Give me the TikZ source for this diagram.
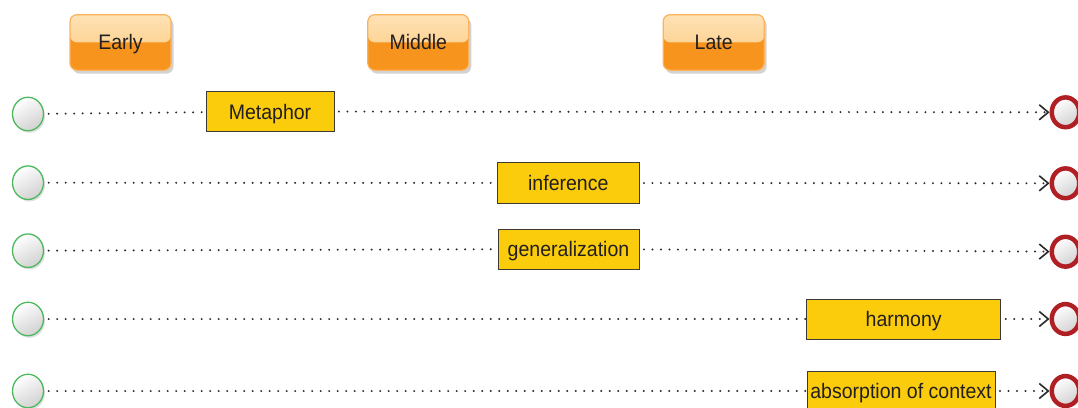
\documentclass[tikz,border=0pt]{standalone}
\usepackage{fontspec}
\setmainfont{Liberation Sans}[FakeStretch=0.93]
\usetikzlibrary{shapes.geometric,arrows.meta,shadows}
\definecolor{hbot}{HTML}{F7941D}
\definecolor{htop}{HTML}{FEE2B6}
\definecolor{hmid}{HTML}{FBC777}
\definecolor{hborder}{HTML}{FBB25A}
\definecolor{boxfill}{HTML}{FBCC0C}
\definecolor{boxline}{HTML}{3C3A32}
\definecolor{txt}{HTML}{231F20}
\definecolor{startline}{HTML}{4DB85C}
\definecolor{endline}{HTML}{B01F24}
\definecolor{dotc}{HTML}{2A2A2A}
\begin{document}
\begin{tikzpicture}[x=1pt,y=1pt,
  every node/.style={font=\fontsize{21}{24}\selectfont, text=txt, text height=15pt, text depth=0pt},
  hdr/.style={rounded corners=7pt, minimum width=101pt, minimum height=55.5pt,
    fill=hbot, draw=hborder, line width=1.2pt, inner sep=0pt,
    drop shadow={shadow xshift=2.5pt, shadow yshift=-3.5pt, opacity=0.35},
    path picture={\fill[top color=htop, bottom color=hmid]
      (path picture bounding box.north west) rectangle (path picture bounding box.east);}},
  startc/.style={ellipse, minimum width=31pt, minimum height=33.5pt, inner sep=0pt,
    draw=startline, line width=1.3pt, top color=white, bottom color=black!18, shading angle=30,
    drop shadow={shadow xshift=1.5pt, shadow yshift=-2pt, opacity=0.25}},
  endc/.style={ellipse, minimum width=27.5pt, minimum height=29.8pt, inner sep=0pt,
    draw=endline, line width=4.5pt, top color=white, bottom color=black!18, shading angle=30,
    drop shadow={shadow xshift=1.5pt, shadow yshift=-2pt, opacity=0.25}},
  task/.style={draw=boxline, fill=boxfill, line width=0.9pt, inner sep=0pt},
  conn/.style={draw=dotc, line width=2.2pt, line cap=round, dash pattern=on 0pt off 8.5pt, dash phase=4pt},
  tip/.style={-{Straight Barb[length=9pt,width=15pt,line width=1.6pt]}}
]
\path[use as bounding box] (0,0) rectangle (1078,-407);

% headers
\node[hdr] (early)  at (120.5,-42.4) {Early};
\node[hdr] (middle) at (418.3,-42.4) {Middle};
\node[hdr] (late)   at (713.7,-42.4) {Late};

% start circles
\node[startc] (s1) at (28,-114) {};
\node[startc] (s2) at (28,-182.7) {};
\node[startc] (s3) at (28,-250.7) {};
\node[startc] (s4) at (28,-319) {};
\node[startc] (s5) at (28,-391) {};

% end circles
\node[endc] (e1) at (1065.5,-112.3) {};
\node[endc] (e2) at (1065.5,-183.3) {};
\node[endc] (e3) at (1065.5,-251.7) {};
\node[endc] (e4) at (1065.5,-319) {};
\node[endc] (e5) at (1065.5,-391) {};

% tasks
\node[task, minimum width=128pt, minimum height=40.7pt] (t1) at (270,-111.5) {Metaphor};
\node[task, minimum width=141.3pt, minimum height=40.6pt] (t2) at (568.3,-183) {inference};
\node[task, minimum width=141pt, minimum height=40pt] (t3) at (568.5,-249) {generalization};
\node[task, minimum width=194pt, minimum height=40pt] (t4) at (903.7,-319) {harmony};
\node[task, minimum width=188pt, minimum height=40pt] (t5) at (901,-391) {absorption of context};

% connectors
\foreach \i in {1,...,5}{
  \draw[conn] (s\i) -- (t\i);
  \draw[conn,tip] (t\i) -- (e\i);
}
\end{tikzpicture}
\end{document}
